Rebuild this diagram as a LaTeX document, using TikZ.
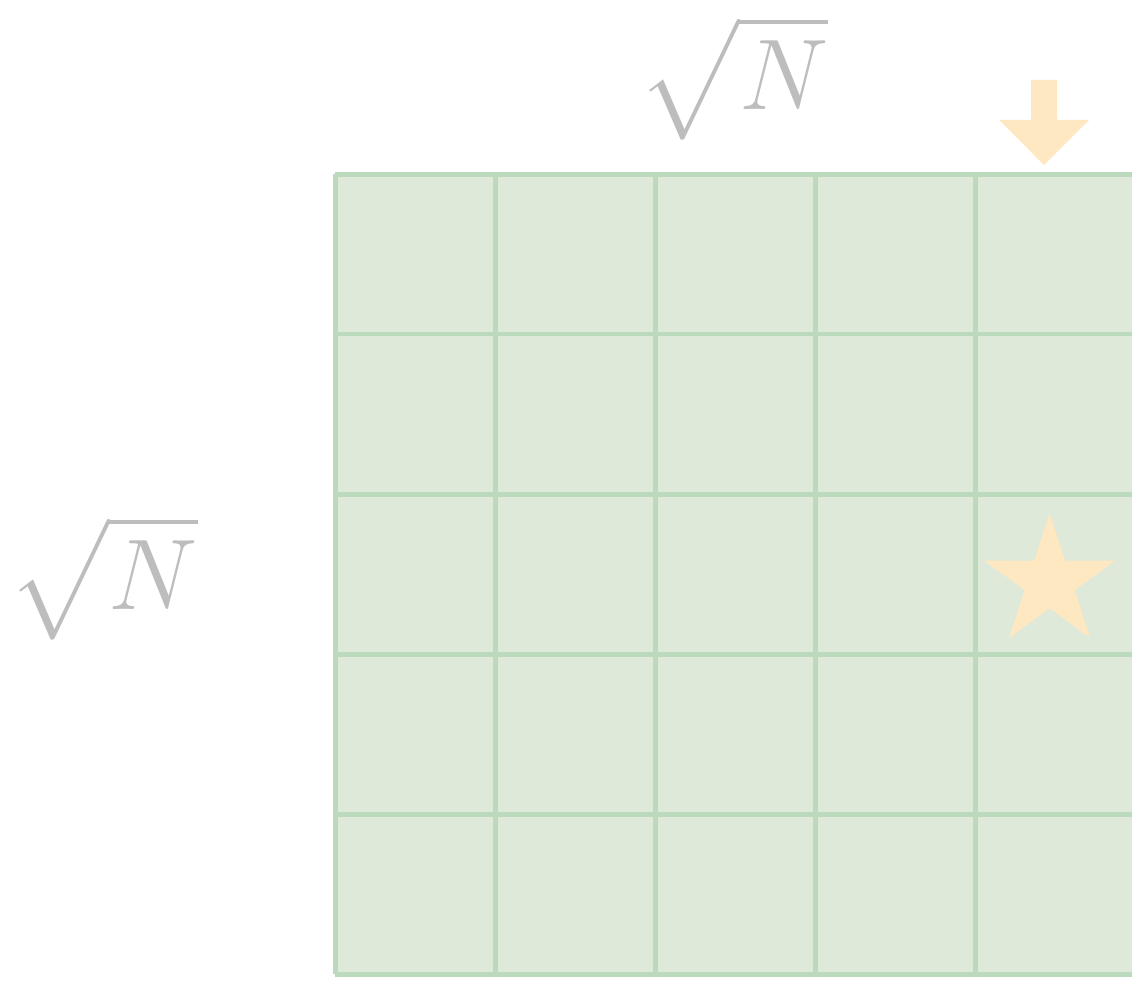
\documentclass[tikz,border=0pt]{standalone}
\usepackage{amsmath}
\usepackage{xcolor}
\usepackage{tikz}
\usetikzlibrary{positioning, calc}

\definecolor{cellfill}{HTML}{DEE9D9}
\definecolor{cellline}{HTML}{BBD9BB}
\definecolor{markfill}{HTML}{FDE8C1}
\definecolor{labelgray}{HTML}{BDBDBD}

\begin{document}
\begin{tikzpicture}[x=1.6cm, y=1.6cm,
    sizelabel/.style={text=labelgray, inner sep=0pt, font=\Huge,
      scale=1.15, transform shape},
    gridlines/.style={cellline, line width=1.42pt}]
  % Picture frame
  \useasboundingbox (-2.094,1.0875) rectangle (4.981,-5.044);

  % Grid of cells
  \fill[cellfill] (0,0) rectangle (5,-5);
  \draw[gridlines, step=1.6cm] (0,-5) grid (5,0);

  % Column marker
  \fill[markfill] (4.35,0.5875) -- (4.5125,0.5875) -- (4.5125,0.3375)
    -- (4.7125,0.3375) -- (4.431,0.056) -- (4.15,0.3375)
    -- (4.35,0.3375) -- cycle;

  % Target cell
  \coordinate (T) at (4.466,-2.55);
  \fill[markfill] ($(T)+(90:0.431)$) -- ($(T)+(126:0.165)$)
    -- ($(T)+(162:0.431)$) -- ($(T)+(198:0.165)$)
    -- ($(T)+(234:0.431)$) -- ($(T)+(270:0.165)$)
    -- ($(T)+(306:0.431)$) -- ($(T)+(342:0.165)$)
    -- ($(T)+(18:0.431)$) -- ($(T)+(54:0.165)$) -- cycle;

  % Side lengths
  \node[sizelabel] (topN) at (2.49,0.6) {$\sqrt{\vphantom{(}N}$};
  \node[sizelabel] (leftN) at (-1.45,-2.525) {$\sqrt{\vphantom{(}N}$};
\end{tikzpicture}
\end{document}
